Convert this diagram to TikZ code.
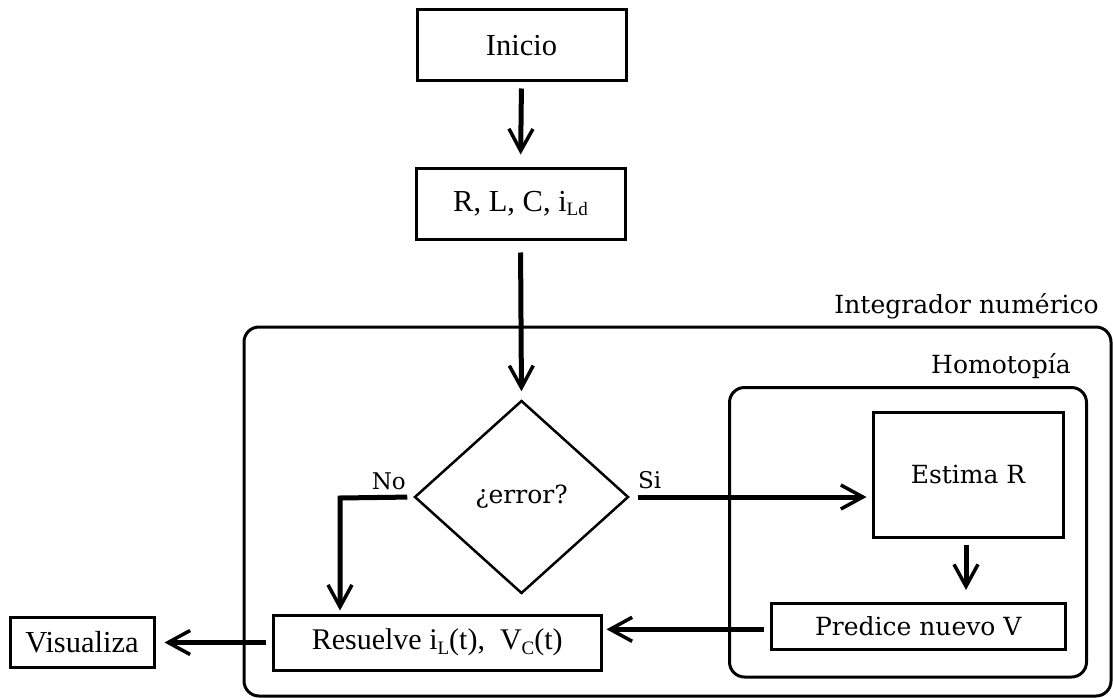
\documentclass[tikz,border=0pt]{standalone}
\usepackage{fontspec}
\setmainfont{Liberation Serif}
\newfontfamily\bk{DejaVu Serif}
\usetikzlibrary{arrows.meta,shapes.geometric}
\newcommand{\sbs}[1]{\raisebox{-0.35ex}{\fontsize{19}{19}\selectfont #1}}
\tikzset{
  box/.style={draw, line width=3pt, inner sep=0pt, font=\fontsize{30.5}{32}\selectfont},
  bkbox/.style={draw, line width=3pt, inner sep=0pt, font=\bk\fontsize{25}{28}\selectfont},
  group/.style={draw, line width=3pt, rounded corners=15pt, inner sep=0pt},
  lbl/.style={inner sep=0pt, font=\bk\fontsize{25}{28}\selectfont},
  arr/.style={line width=5pt, -{Straight Barb[length=22pt,width=24pt,line width=3.5pt]}},
}
\begin{document}
\begin{tikzpicture}[x=1pt,y=-1pt]
\useasboundingbox (0,0) rectangle (1113,698);
% groups
\node[group, minimum width=867pt, minimum height=369pt] (outer) at (677.5,511.5) {};
\node[lbl, anchor=east] (outerlbl) at (1099,306) {Integrador numérico};
\node[lbl, anchor=east] (homolbl) at (1071,366) {Homotopía};
\node[group, minimum width=357pt, minimum height=289.5pt] (homo) at (908,532.25) {};
% nodes
\node[box, minimum width=209pt, minimum height=71pt] (ini) at (521.5,45.5) {Inicio};
\node[box, minimum width=209pt, minimum height=71pt] (rlc) at (520.5,203.5) {R, L, C, i\sbs{Ld}};
\node[draw, diamond, line width=2.5pt, inner sep=0pt, minimum width=214pt, minimum height=193pt,
      font=\bk\fontsize{25}{28}\selectfont] (err) at (521.5,497) {¿error?};
\node[bkbox, minimum width=190pt, minimum height=125pt] (est) at (968,474.5) {Estima R};
\node[bkbox, minimum width=293.5pt, minimum height=45.5pt] (pred) at (918.25,626.25) {Predice nuevo V};
\node[box, minimum width=327.5pt, minimum height=55pt, font=\fontsize{30}{32}\selectfont] (res) at (437.25,642.5) {Resuelve i\sbs{L}(t),\ \ V\sbs{C}(t)};
\node[box, minimum width=144pt, minimum height=50pt] (vis) at (82,642.5) {Visualiza};
% labels
\node[lbl, anchor=south east, font=\bk\fontsize{23}{26}\selectfont] (nolbl) at (406,490) {No};
\node[lbl, anchor=south west, font=\bk\fontsize{23}{26}\selectfont] (silbl) at (638,489) {Si};
% connectors
\draw[arr, shorten <=6pt, shorten >=12pt] (ini.south) -- (rlc.north);
\draw[arr, shorten <=12pt, shorten >=8pt] (rlc.south) -- (err.north);
\coordinate (nocorner) at (340,498);
\draw[arr, shorten <=6pt, shorten >=3pt] (err.west) -- (nocorner) -- (nocorner |- res.north);
\draw[arr, shorten <=8pt, shorten >=5pt] (err.east) -- (est.west |- err.east);
\draw[arr, shorten <=6pt, shorten >=12pt] ([xshift=-2pt]est.south) -- ([xshift=-2pt]est.south |- pred.north);
\coordinate (pw) at (pred.west |- 0,629.3);
\draw[arr, shorten <=6pt, shorten >=4pt] (pw) -- (res.east |- pw);
\draw[arr, shorten <=6pt, shorten >=9pt] (res.west) -- (vis.east);
\end{tikzpicture}
\end{document}
